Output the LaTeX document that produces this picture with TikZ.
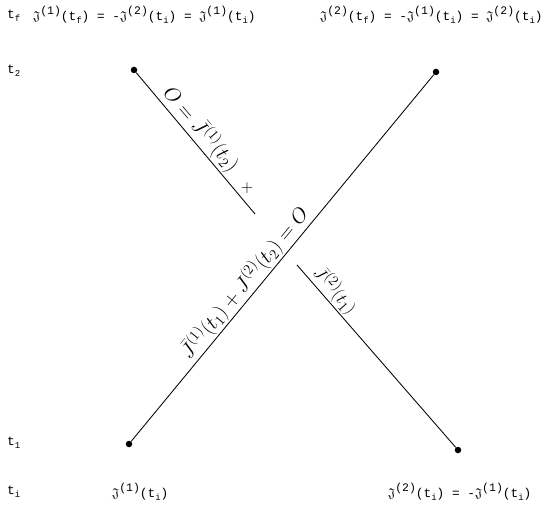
\documentclass[tikz,border=0pt]{standalone}
\usepackage{fontspec}
\usepackage{amssymb}
\usetikzlibrary{calc}
\setmonofont{Liberation Mono}
\newcommand\SJ{\ensuremath{\mathfrak{J}}}
\newcommand\supx[1]{\raisebox{0.42em}{\fontsize{11.5}{12}\selectfont(#1)}}
\newcommand\subx[1]{\raisebox{-0.25em}{\fontsize{9}{9}\selectfont #1}}
\newcommand\jt[2]{\SJ\supx{#1}(t\subx{#2})}
\begin{document}
\begin{tikzpicture}[x=1pt,y=-1pt,
  lbl/.style={font=\ttfamily\fontsize{12.8}{14}\selectfont, inner sep=0pt},
  hand/.style={font=\fontsize{19}{21}\selectfont, inner sep=1.5pt},
  world/.style={line width=0.85pt},
  dot/.style={circle, fill=black, inner sep=0pt, minimum size=6.5pt}]
\useasboundingbox (0,0) rectangle (545,510);
% time labels
\node[lbl, anchor=west] (tf) at (7,16) {t\subx{f}};
\node[lbl, anchor=west] (t2) at (7,71) {t\subx{2}};
\node[lbl, anchor=west] (t1) at (7,443) {t\subx{1}};
\node[lbl, anchor=west] (ti) at (7,492) {t\subx{i}};
% top & bottom labels
\node[lbl, anchor=west] (topL) at (33,15) {\jt{1}{f} = -\jt{2}{i} = \jt{1}{i}};
\node[lbl, anchor=west] (topR) at (320,15) {\jt{2}{f} = -\jt{1}{i} = \jt{2}{i}};
\node[lbl, anchor=west] (botL) at (112,492) {\jt{1}{i}};
\node[lbl, anchor=west] (botR) at (388,492) {\jt{2}{i} = -\jt{1}{i}};
% dots
\node[dot] (a) at (134,70) {};
\node[dot] (b) at (436,72) {};
\node[dot] (c) at (129,444) {};
\node[dot] (d) at (458,450) {};
\coordinate (e) at (255,214);
\coordinate (f) at (297,265);
% world lines
\draw[world] (c) -- (b);
\draw[world] (a) -- (e);
\draw[world] (f) -- (d);
% handwritten labels
\node[hand, font=\fontsize{20}{22}\selectfont, rotate=-49.5, anchor=south] (h1) at ($(a)!0.47!(e)$) {$O=\bar{J}^{(1)}(t_2)$};
\node[hand] (h2) at (247,188) {$+$};
\node[hand, font=\fontsize{20.5}{22}\selectfont, rotate=50.6, anchor=south] (h3) at ($(c)!0.41!(b)$) {$\bar{J}^{(1)}(t_1)+J^{(2)}(t_2)=O$};
\node[hand, rotate=-49.3, anchor=south] (h4) at ($(f)!0.18!(d)$) {$\bar{J}^{(2)}(t_1)$};
\end{tikzpicture}
\end{document}
